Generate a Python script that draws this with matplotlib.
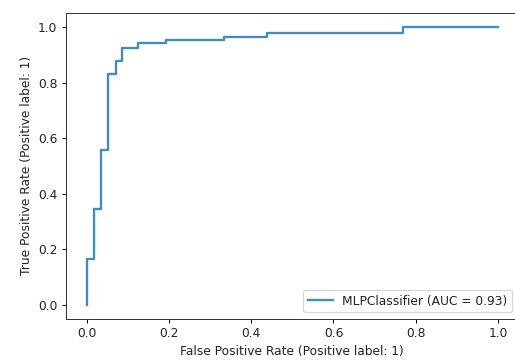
import numpy as np
import matplotlib
matplotlib.use('Agg')
import matplotlib.pyplot as plt

# ROC curve points (step curve)
fpr = [0.0, 0.0, 0.018, 0.018, 0.036, 0.036, 0.053, 0.053, 0.071, 0.071,
       0.087, 0.087, 0.125, 0.125, 0.193, 0.193, 0.333, 0.333, 0.439, 0.439,
       0.769, 0.769, 1.0]
tpr = [0.0, 0.163, 0.163, 0.346, 0.346, 0.557, 0.557, 0.831, 0.831, 0.876,
       0.876, 0.925, 0.925, 0.942, 0.942, 0.952, 0.952, 0.964, 0.964, 0.978,
       0.978, 1.0, 1.0]
label = 'MLPClassifier (AUC = 0.93)'

# the screenshot looks slightly upscaled / soft
plt.rcParams['text.color'] = '#222222'
plt.rcParams['axes.labelcolor'] = '#222222'
plt.rcParams['xtick.labelcolor'] = '#222222'
plt.rcParams['ytick.labelcolor'] = '#222222'
plt.rcParams['axes.edgecolor'] = '#333333'

dpi = 88
fig = plt.figure(figsize=(515 / dpi, 363 / dpi), dpi=dpi)
# axes run past the right edge, like the cropped original
ax = fig.add_axes([66 / 515, 1 - 318.6 / 363, (518.6 - 66) / 515, (318.6 - 13.1) / 363])

ax.plot(fpr, tpr, label=label, color='#1f77b4', lw=1.9, alpha=0.85)
ax.set_xlabel('False Positive Rate (Positive label: 1)')
ax.set_ylabel('True Positive Rate (Positive label: 1)')
ax.legend(loc='lower right')

fig.savefig('out.png', dpi=dpi)
